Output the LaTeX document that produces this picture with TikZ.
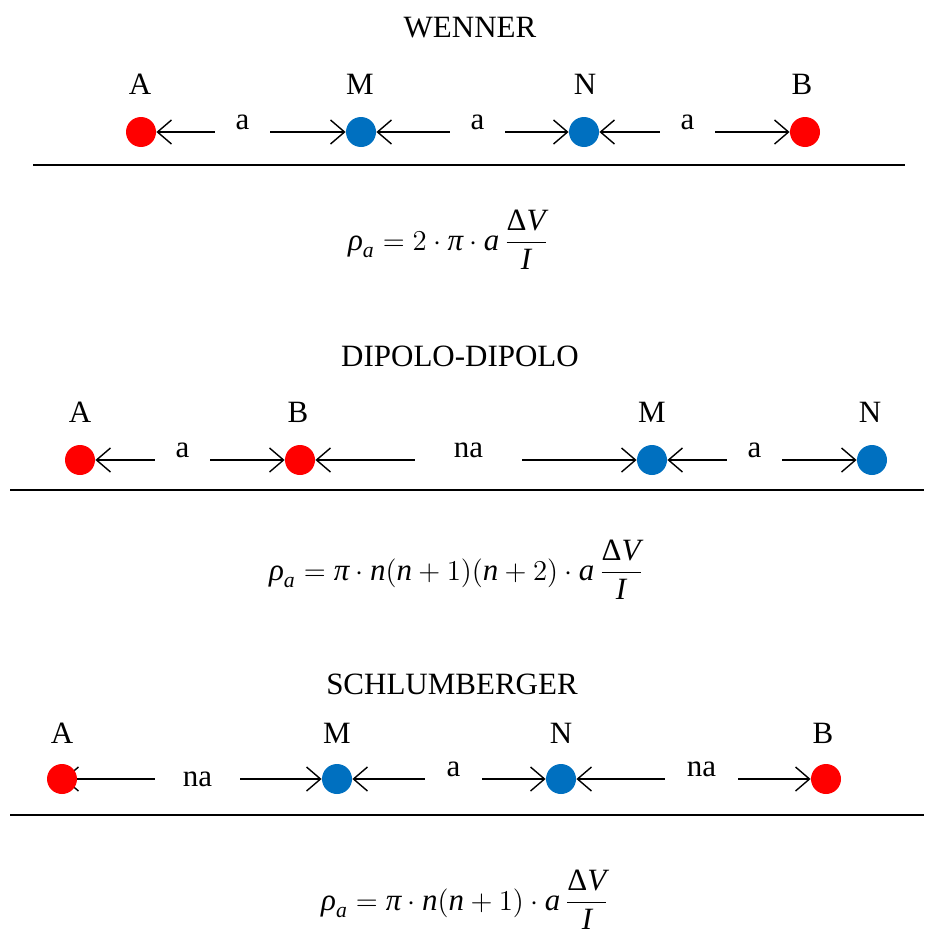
\documentclass[tikz,border=0pt]{standalone}
\usepackage{amsmath}
\usepackage{fontspec}
\setmainfont{Liberation Serif}
\usepackage{xcolor}
\usetikzlibrary{arrows.meta,positioning}
\definecolor{currentred}{RGB}{255,0,0}
\definecolor{potblue}{RGB}{0,112,192}
\newcommand\vi[1]{\mathord{\textit{#1}}}
\newcommand\vu[1]{\mathord{\textup{#1}}}
\pgfdeclarelayer{background}
\pgfsetlayers{background,main}

\begin{document}
\begin{tikzpicture}[
 x=0.5pt,y=-0.5pt,font=\fontsize{15.5}{18}\selectfont,
 elec/.style={circle,inner sep=0pt,minimum size=15pt},
 cur/.style={elec,fill=currentred},
 pot/.style={elec,fill=potblue},
 tag/.style={inner sep=0pt},
 gap/.style={inner sep=0pt,minimum width=#1,minimum height=8pt},
 lift/.style={inner sep=0pt,yshift=5pt},
 spacing/.style={-{Straight Barb[length=7pt,width=12pt]},line width=0.7pt},
 ground/.style={line width=1pt},
 formula/.style={inner sep=0pt,font=\fontsize{15.5}{18}\selectfont}]
\useasboundingbox (0,0) rectangle (934,937);
% Wenner
\node[tag] (wtitle) at (470,28) {WENNER};
\node[cur] (wA) at (141,132) {};
\node[pot] (wM) at (361,132) {};
\node[pot] (wN) at (584,132) {};
\node[cur] (wB) at (805,132) {};
\node[tag] (wlA) at (140,84) {A};
\node[tag] (wlM) at (360,84) {M};
\node[tag] (wlN) at (585,84) {N};
\node[tag] (wlB) at (802,84) {B};
\node[gap=27.5pt,label={[lift]center:a}] (wg1) at (242.5,132) {};
\node[gap=27.5pt,label={[lift]center:a}] (wg2) at (477.5,132) {};
\node[gap=27.5pt,label={[lift]center:a}] (wg3) at (687.5,132) {};
\draw[spacing] (wg1.west) -- (wA.east);
\draw[spacing] (wg1.east) -- (wM.west);
\draw[spacing] (wg2.west) -- (wM.east);
\draw[spacing] (wg2.east) -- (wN.west);
\draw[spacing] (wg3.west) -- (wN.east);
\draw[spacing] (wg3.east) -- (wB.west);
\coordinate (wsurf1) at (33,165);
\coordinate (wsurf2) at (905,165);
\draw[ground] (wsurf1) -- (wsurf2);
\node[formula] (wrho) at (448,240)
 {$\displaystyle\vi{ρ}_{\vi{a}}=2\cdot\vi{π}\cdot\vi{a}\,\frac{\vu{Δ}\vi{V}}{\vi{I}}$};
% Dipolo-dipolo
\node[tag] (dtitle) at (460,356) {DIPOLO-DIPOLO};
\node[cur] (dA) at (80,460) {};
\node[cur] (dB) at (300,460) {};
\node[pot] (dM) at (652,460) {};
\node[pot] (dN) at (872,460) {};
\node[tag] (dlA) at (80,412) {A};
\node[tag] (dlB) at (298,412) {B};
\node[tag] (dlM) at (652,412) {M};
\node[tag] (dlN) at (870,412) {N};
\node[gap=27.5pt,label={[lift]center:a}] (dg1) at (182.5,460) {};
\node[gap=53.5pt,label={[lift]center:na}] (dg2) at (468.5,460) {};
\node[gap=27.5pt,label={[lift]center:a}] (dg3) at (754.5,460) {};
\draw[spacing] (dg1.west) -- (dA.east);
\draw[spacing] (dg1.east) -- (dB.west);
\draw[spacing] (dg2.west) -- (dB.east);
\draw[spacing] (dg2.east) -- (dM.west);
\draw[spacing] (dg3.west) -- (dM.east);
\draw[spacing] (dg3.east) -- (dN.west);
\coordinate (dsurf1) at (10,490);
\coordinate (dsurf2) at (924,490);
\draw[ground] (dsurf1) -- (dsurf2);
\node[formula] (drho) at (456,570)
 {$\displaystyle\vi{ρ}_{\vi{a}}=\vi{π}\cdot\vi{n}(\vi{n}+1)(\vi{n}+2)\cdot\vi{a}\,\frac{\vu{Δ}\vi{V}}{\vi{I}}$};
% Schlumberger
\node[tag] (stitle) at (452,684) {SCHLUMBERGER};
\node[cur] (sA) at (62,779) {};
\node[pot] (sM) at (337,779) {};
\node[pot] (sN) at (561,779) {};
\node[cur] (sB) at (826,779) {};
\node[tag] (slA) at (62,733) {A};
\node[tag] (slM) at (337,733) {M};
\node[tag] (slN) at (561,733) {N};
\node[tag] (slB) at (823,733) {B};
\node[gap=42.5pt,label={[inner sep=0pt]center:na}] (sg1) at (197.5,779) {};
\node[gap=28.5pt,label={[lift]center:a}] (sg2) at (453.5,779) {};
\node[gap=36.5pt,label={[lift]center:na}] (sg3) at (701.5,779) {};
\begin{pgfonlayer}{background}
\draw[spacing,shorten >=-7pt] (sg1.west) -- (sA.east);
\end{pgfonlayer}
\draw[spacing] (sg1.east) -- (sM.west);
\draw[spacing] (sg2.west) -- (sM.east);
\draw[spacing] (sg2.east) -- (sN.west);
\draw[spacing] (sg3.west) -- (sN.east);
\draw[spacing] (sg3.east) -- (sB.west);
\coordinate (ssurf1) at (10,815);
\coordinate (ssurf2) at (924,815);
\draw[ground] (ssurf1) -- (ssurf2);
\node[formula] (srho) at (465,900)
 {$\displaystyle\vi{ρ}_{\vi{a}}=\vi{π}\cdot\vi{n}(\vi{n}+1)\cdot\vi{a}\,\frac{\vu{Δ}\vi{V}}{\vi{I}}$};
\end{tikzpicture}
\end{document}
